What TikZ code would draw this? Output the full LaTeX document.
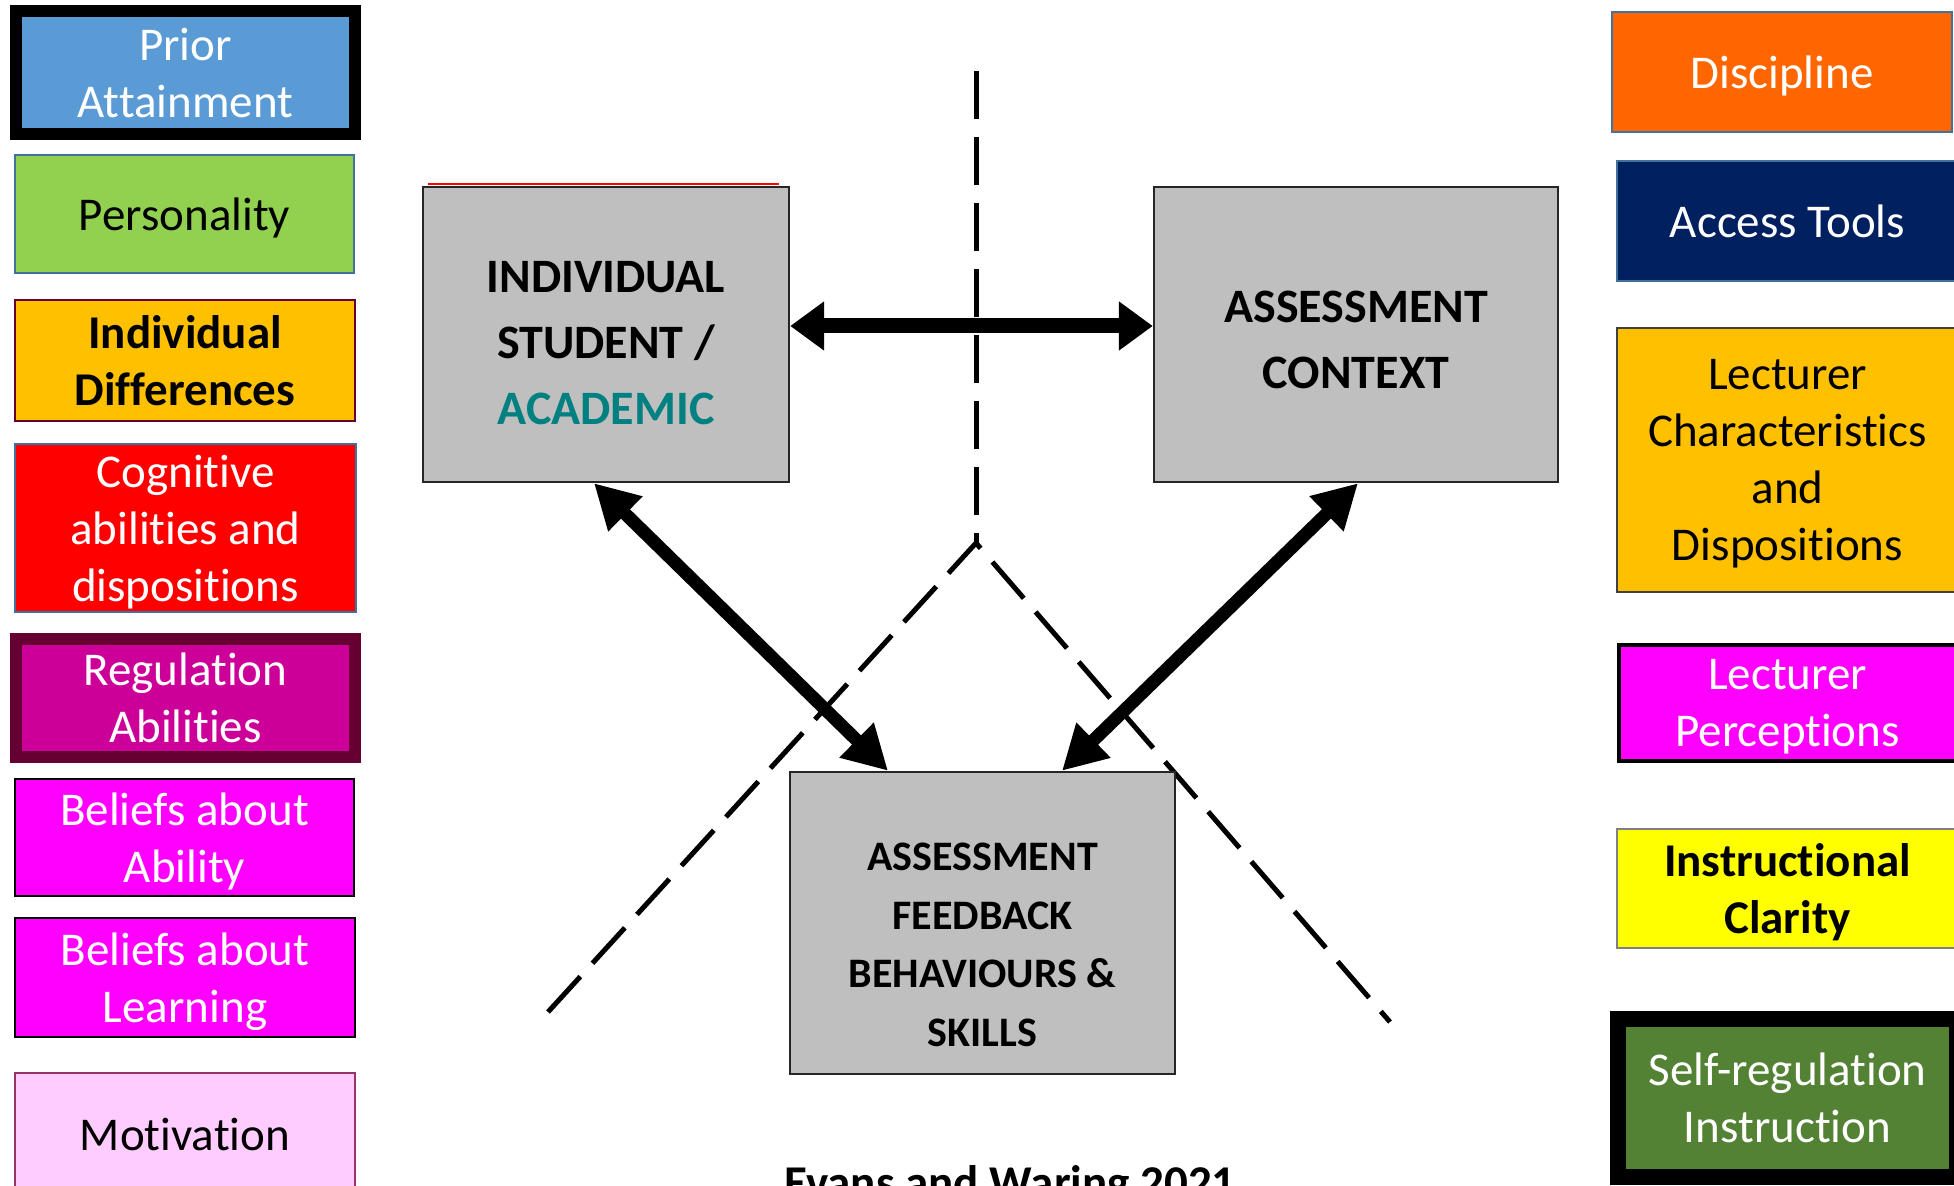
\documentclass[tikz,border=0pt]{standalone}
\usepackage{fontspec}
\setmainfont{Carlito}[Ligatures=NoCommon]
\usetikzlibrary{arrows.meta}

\definecolor{cBlue}{HTML}{5B9BD5}
\definecolor{cGreen}{HTML}{92D050}
\definecolor{cEdge}{HTML}{41719C}
\definecolor{cAmber}{HTML}{FFC000}
\definecolor{cMaroon}{HTML}{660033}
\definecolor{cRed}{HTML}{FF0000}
\definecolor{cPlum}{HTML}{CC0099}
\definecolor{cMag}{HTML}{FF00FF}
\definecolor{cPink}{HTML}{FFCCFF}
\definecolor{cPinkEdge}{HTML}{993366}
\definecolor{cOrange}{HTML}{FF6600}
\definecolor{cNavy}{HTML}{002060}
\definecolor{cYellow}{HTML}{FFFF00}
\definecolor{cOlive}{HTML}{548235}
\definecolor{cGrey}{HTML}{BFBFBF}
\definecolor{cTeal}{HTML}{008080}
\definecolor{cDark}{HTML}{262626}

\begin{document}
\begin{tikzpicture}[x=0.5pt,y=-0.5pt,
  lbl/.style={rectangle, inner sep=0pt, align=center, draw, line width=1pt, text depth=0pt,
    font=\fontsize{23.5}{28.5}\selectfont},
  cbox/.style={rectangle, inner sep=0pt, draw=cDark, line width=1.2pt, fill=cGrey},
  ctext/.style={inner sep=0pt, align=center, font=\fontsize{24}{33}\selectfont\bfseries},
  ftext/.style={inner sep=0pt, align=center, font=\fontsize{21}{29.25}\selectfont\bfseries},
  divider/.style={line width=2.5pt, dash pattern=on 24pt off 9pt},
  flatlink/.style={line width=7.5pt, {Triangle[length=17pt,width=23.5pt]}-{Triangle[length=17pt,width=23.5pt]}},
  slantlink/.style={line width=6.5pt, {Triangle[length=22pt,width=23pt]}-{Triangle[length=22pt,width=23pt]}}
]
\useasboundingbox (0,0) rectangle (1954,1186);
\clip (0,0) rectangle (1954,1186);

% ---- student-side factors (left column)
\node[lbl, fill=cBlue, draw=black, line width=6pt, text=white,
  minimum width=169.5pt, minimum height=61.5pt] (prior) at (185.5,72.5) {Prior\\Attainment};
\node[lbl, fill=cGreen, draw=cEdge,
  minimum width=169.5pt, minimum height=59pt] (pers) at (184.5,214) {Personality};
\node[lbl, fill=cAmber, draw=cMaroon, font=\fontsize{23.5}{28.5}\selectfont\bfseries,
  minimum width=170pt, minimum height=60.5pt] (diff) at (185,360.5) {Individual\\Differences};
\node[lbl, fill=cRed, draw=cEdge, text=white,
  minimum width=170.5pt, minimum height=84pt] (cog) at (185.5,528) {Cognitive\\abilities and\\dispositions};
\node[lbl, fill=cPlum, draw=cMaroon, line width=6pt, text=white,
  minimum width=169.5pt, minimum height=59pt] (reg) at (185.5,698) {Regulation\\Abilities};
\node[lbl, fill=cMag, draw=black, text=white,
  minimum width=169.5pt, minimum height=58.5pt] (bab) at (184.5,837.5) {Beliefs about\\Ability};
\node[lbl, fill=cMag, draw=black, text=white,
  minimum width=170pt, minimum height=59.5pt] (blr) at (185,977.5) {Beliefs about\\Learning};
\node[lbl, fill=cPink, draw=cPinkEdge,
  minimum width=170pt, minimum height=61pt] (mot) at (185,1134) {Motivation};

% ---- context-side factors (right column)
\node[lbl, fill=cOrange, draw=cEdge, text=white,
  minimum width=170pt, minimum height=60pt] (disc) at (1782,72) {Discipline};
\node[lbl, fill=cNavy, draw=cEdge, text=white,
  minimum width=170.5pt, minimum height=60pt] (acc) at (1787.5,221) {Access Tools};
\node[lbl, fill=cAmber, draw=black!75,
  minimum width=170.5pt, minimum height=132pt] (lch) at (1787.5,460) {Lecturer\\Characteristics\\and\\Dispositions};
\node[lbl, fill=cMag, draw=black, line width=2pt, text=white,
  minimum width=168.5pt, minimum height=58pt] (lpe) at (1787.5,703) {Lecturer\\Perceptions};
\node[lbl, fill=cYellow, draw=black!50, font=\fontsize{23.5}{28.5}\selectfont\bfseries,
  minimum width=170.5pt, minimum height=59.5pt] (icl) at (1787.5,888.5) {Instructional\\Clarity};
\node[lbl, fill=cOlive, draw=black, line width=8pt, text=white,
  minimum width=169.5pt, minimum height=79pt] (sri) at (1787.5,1098) {Self-regulation\\Instruction};

% ---- dividing lines
\coordinate (vtop) at (976,71);
\coordinate (apex) at (976,543);
\coordinate (lend) at (548,1012);
\coordinate (rend) at (1390,1022);
\draw[divider] (vtop) -- (apex);
\draw[divider] (lend) -- (apex) -- (rend);

% ---- central triad
\node[cbox, minimum width=183pt, minimum height=147.5pt] (ind) at (606,334.5) {};
\draw[red, line width=1pt] ([xshift=3pt,yshift=1pt]ind.north west) -- ([xshift=-5.5pt,yshift=1pt]ind.north east);
\node[ctext] (indtxt) at (606,343.5) {INDIVIDUAL\\STUDENT /\\\textcolor{cTeal}{ACADEMIC}};

\node[cbox, minimum width=202pt, minimum height=147.5pt] (ctx) at (1356,334.5) {};
\node[ctext] (ctxtxt) at (1356,339.5) {ASSESSMENT\\CONTEXT};

\node[cbox, minimum width=192.5pt, minimum height=151pt] (fb) at (982.5,923) {};
\node[ftext] (fbtxt) at (982.5,945) {ASSESSMENT\\FEEDBACK\\BEHAVIOURS \&\\SKILLS};

% ---- relationships
\draw[flatlink] ([yshift=4.25pt]ind.east) -- ([yshift=4.25pt]ctx.west);
\draw[slantlink] ([xshift=-6pt]ind.south) -- ([xshift=-47.25pt]fb.north);
\draw[slantlink] ([xshift=1pt]ctx.south) -- ([xshift=39.75pt]fb.north);

% ---- source
\node[inner sep=0pt, anchor=base, font=\fontsize{23.5}{28}\selectfont\bfseries] (cite) at (1010,1198) {Evans and Waring 2021};
\end{tikzpicture}
\end{document}
